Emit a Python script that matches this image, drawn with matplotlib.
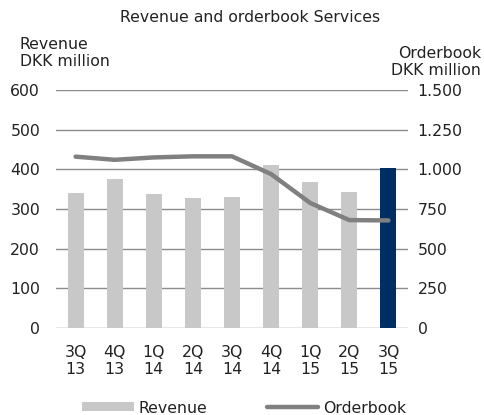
import matplotlib.pyplot as plt
import numpy as np

quarters = ["3Q\n13", "4Q\n13", "1Q\n14", "2Q\n14", "3Q\n14", "4Q\n14", "1Q\n15", "2Q\n15", "3Q\n15"]
revenue = [341, 376, 339, 327, 330, 410, 368, 343, 403]
orderbook = [1080, 1060, 1075, 1082, 1082, 970, 788, 680, 678]

left_ticks = [0, 100, 200, 300, 400, 500, 600]
right_ticks = [0, 250, 500, 750, 1000, 1250, 1500]
right_labels = ["0", "250", "500", "750", "1.000", "1.250", "1.500"]

FS = 11.3
plt.rcParams["font.family"] = "DejaVu Sans"
plt.rcParams["font.size"] = FS
plt.rcParams["text.color"] = "#222222"

fig = plt.figure(figsize=(4.85, 4.15), dpi=100)
ax1 = fig.add_axes([56 / 485, 1 - 328 / 415, 352 / 485, 238 / 415])
ax2 = ax1.twinx()

x = np.arange(len(quarters))
colors = ["#c8c8c8"] * (len(quarters) - 1) + ["#002d62"]
ax1.bar(x, revenue, width=0.41, color=colors, zorder=3)
ax1.bar([0], [0], color="#c8c8c8", label="Revenue")  # legend proxy

ax2.plot(x, orderbook, color="#808080", lw=3.2, solid_capstyle="round", label="Orderbook", zorder=4)

ax1.set_xlim(-0.5, len(quarters) - 0.5)
ax1.set_ylim(0, 600)
ax2.set_ylim(0, 1500)
ax1.set_yticks(left_ticks)
ax2.set_yticks(right_ticks)
ax2.set_yticklabels(right_labels)
ax1.set_xticks(x)
ax1.set_xticklabels(quarters, linespacing=1.1)

ax1.grid(axis="y", color="#8c8c8c", lw=1, zorder=0)
for a in (ax1, ax2):
    for s in a.spines.values():
        s.set_visible(False)
    a.tick_params(length=0, colors="#222222", labelsize=FS)
ax1.tick_params(axis="y", pad=11.5)
ax2.tick_params(axis="y", pad=7)
ax1.tick_params(axis="x", pad=12.5)
ax2.set_zorder(ax1.get_zorder() + 1)
ax2.patch.set_visible(False)

fig.text(250 / 485, 1 - 18 / 415, "Revenue and orderbook Services", ha="center", va="center")
fig.text(20 / 485, 1 - 53 / 415, "Revenue\nDKK million", ha="left", va="center", linespacing=1.15)
fig.text(481 / 485, 1 - 62 / 415, "Orderbook\nDKK million", ha="right", va="center", linespacing=1.2)

h1, l1 = ax1.get_legend_handles_labels()
h2, l2 = ax2.get_legend_handles_labels()
fig.legend(h1 + h2, l1 + l2, loc="center", bbox_to_anchor=(244 / 485, 1 - 408 / 415), ncol=2,
           frameon=False, handlelength=3.3, handleheight=0.5, handletextpad=0.3,
           columnspacing=3.8, borderpad=0, borderaxespad=0)

fig.savefig("out.png", dpi=100)
